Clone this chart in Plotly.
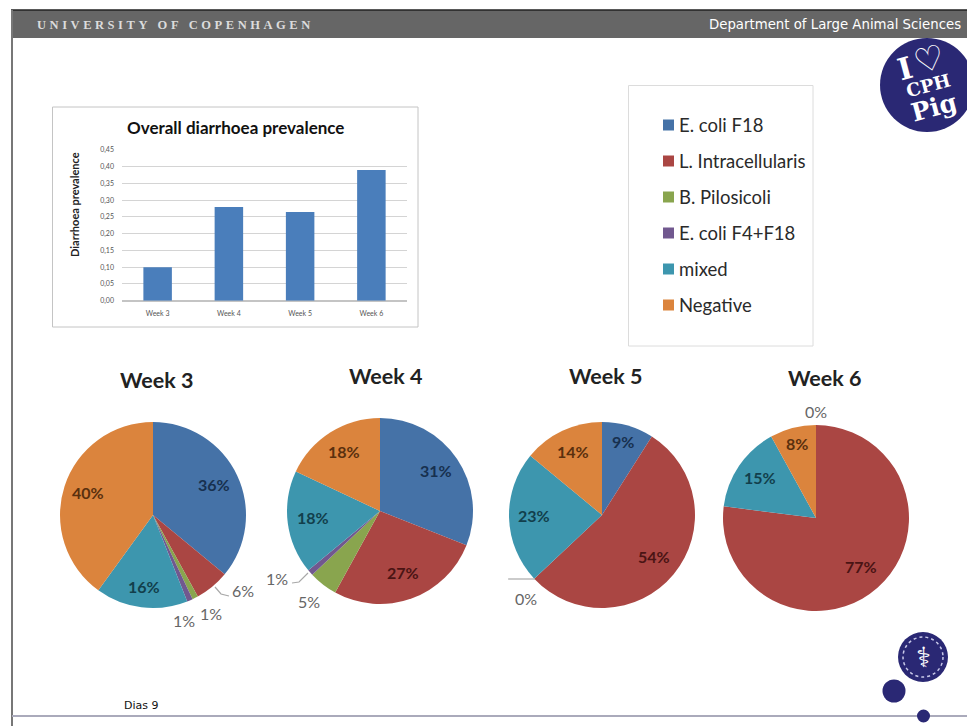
import math
import plotly.graph_objects as go

W, H = 967, 726

# bar chart data
weeks = ["Week 3", "Week 4", "Week 5", "Week 6"]
prevalence = [0.10, 0.28, 0.265, 0.39]
y_ticks = [0, 0.05, 0.10, 0.15, 0.20, 0.25, 0.30, 0.35, 0.40, 0.45]
y_tick_labels = ["0,00", "0,05", "0,10", "0,15", "0,20", "0,25", "0,30", "0,35", "0,40", "0,45"]

# pie data, one list per week
agents = ["E. coli F18", "L. Intracellularis", "B. Pilosicoli", "E. coli F4+F18", "mixed", "Negative"]
week3 = [36, 6, 1, 1, 16, 40]
week4 = [31, 27, 5, 1, 18, 18]
week5 = [9, 54, 0, 0, 23, 14]
week6 = [0, 77, 0, 0, 15, 8]
all_weeks = [week3, week4, week5, week6]

colors = ["#4572A7", "#AA4643", "#89A54E", "#71588F", "#3D96AE", "#DB843D"]
label_colors = ["#17304f", "#4a1414", "#333", "#333", "#123f4c", "#5a300e"]
navy = "#2A2874"

# pie centre x, centre y, and title centre x, y, in page pixels
pie_pos = [(153, 515, 156, 380), (380, 511, 385, 376), (602, 515, 605, 376), (816, 518, 824, 378)]
pie_r = 93

# labels sitting outside the pie: (week index, slice index): page x, y
outside = {
    (0, 1): (243, 590), (0, 2): (211, 613), (0, 3): (184, 620),
    (1, 2): (309, 601), (1, 3): (277, 578),
    (2, 2): (526, 598),
    (3, 0): (816, 412),
}


def fx(x):
    return x / W


def fy(y):
    return 1 - y / H


def text(x, y, s, size, color="#000", family="Lato", bold=False, angle=0):
    fig.add_annotation(x=fx(x), y=fy(y), xref="paper", yref="paper", text=f"<b>{s}</b>" if bold else s,
                       showarrow=False, textangle=angle, font=dict(size=size, color=color, family=family),
                       xanchor="center", yanchor="middle")


def rect(x0, y0, x1, y1, fill, line=None, width=1, layer="below"):
    fig.add_shape(type="rect", xref="paper", yref="paper", x0=fx(x0), x1=fx(x1), y0=fy(y0), y1=fy(y1),
                  fillcolor=fill, line=dict(color=line, width=width if line else 0), layer=layer)


def circle(cx, cy, r, fill, line=None, width=1, dash="solid"):
    fig.add_shape(type="circle", xref="paper", yref="paper", x0=fx(cx - r), x1=fx(cx + r), y0=fy(cy + r), y1=fy(cy - r),
                  fillcolor=fill, line=dict(color=line, width=width if line else 0, dash=dash), layer="above")


def connector(path):
    d = "M " + " L ".join(f"{fx(x)},{fy(y)}" for x, y in path)
    fig.add_shape(type="path", xref="paper", yref="paper", path=d, line=dict(color="#a8a8a8", width=1.2), layer="above")


fig = go.Figure()

fig.add_trace(go.Bar(x=weeks, y=prevalence, marker=dict(color="#4A7EBB", line=dict(width=0)), width=0.4, showlegend=False))

for i, vals in enumerate(all_weeks):
    cx, cy = pie_pos[i][:2]
    fig.add_trace(go.Pie(labels=agents, values=vals, sort=False, direction="clockwise", rotation=0,
                         textinfo="none", showlegend=False, marker=dict(colors=colors, line=dict(width=0)),
                         domain=dict(x=[fx(cx - pie_r), fx(cx + pie_r)], y=[fy(cy + pie_r), fy(cy - pie_r)])))

# slide frame
rect(11, 10, W, 38, "#666666")
fig.add_shape(type="line", xref="paper", yref="paper", x0=fx(11), x1=1, y0=fy(10), y1=fy(10), line=dict(color="#222", width=1.5), layer="below")
fig.add_shape(type="line", xref="paper", yref="paper", x0=fx(12), x1=fx(12), y0=fy(10), y1=0, line=dict(color="#777", width=2), layer="below")
fig.add_shape(type="line", xref="paper", yref="paper", x0=fx(12), x1=1, y0=fy(716), y1=fy(716), line=dict(color="#aaaabb", width=2), layer="below")
text(173, 25, "\u2009\u200a".join("UNIVERSITY OF COPENHAGEN"), 12.5, "#dcdcdc", "Liberation Serif", bold=True)
text(834.5, 25, "Department of Large Animal Sciences", 13.3, "#ffffff", "DejaVu Sans")
text(141, 705, "Dias 9", 11, "#111", "DejaVu Sans")

# bar chart frame and titles
rect(52.5, 107, 418, 327, "#ffffff", "#c4c4c4", 1)
text(235, 127, "Overall diarrhoea prevalence", 17, "#111", "Lato", bold=True)
text(74, 205, "Diarrhoea prevalence", 11, "#222", "Lato", bold=True, angle=-90)

# shared legend
rect(628.5, 85.5, 813, 346, "#ffffff", "#dcdcdc", 1)
for i, name in enumerate(agents):
    y = 125 + 36 * i
    rect(663, y - 5.5, 674, y + 5.5, colors[i])
    fig.add_annotation(x=fx(677), y=fy(y), xref="paper", yref="paper", text=name, showarrow=False, xanchor="left",
                       yanchor="middle", font=dict(size=18.5, color="#2a2a2a", family="Lato"))

# pie titles and value labels
for i, vals in enumerate(all_weeks):
    cx, cy, tx, ty = pie_pos[i]
    text(tx, ty, weeks[i], 21.5, "#222", "Lato", bold=True)
    cum = 0
    for j, v in enumerate(vals):
        ang = 2 * math.pi * (cum + v / 2) / sum(vals)
        cum += v
        if (i, j) in outside:
            ox, oy = outside[(i, j)]
            text(ox, oy, f"{v}%", 16, "#666", "Lato")
        elif v > 0:
            rr = pie_r * (0.8 if v < 10 or v == 16 else 0.73)
            text(cx + rr * math.sin(ang), cy - 2 - rr * math.cos(ang), f"{v}%", 16, label_colors[j], "Lato", bold=True)

connector([(215, 587), (221, 594), (229, 596)])
connector([(292, 583), (299, 582), (308, 573)])
connector([(508, 579), (535, 579)])

# logos
circle(927, 85, 47, navy)
text(905, 68, "I", 30, "#fff", "DejaVu Serif", bold=True, angle=-15)
text(929, 59, "\u2661", 34, "#fff", "DejaVu Sans", bold=True, angle=-15)
text(928, 86, "CPH", 18, "#fff", "DejaVu Serif", bold=True, angle=-15)
text(934, 107, "Pig", 25, "#fff", "DejaVu Serif", bold=True, angle=-15)

circle(923, 657, 25, navy)
circle(923, 657, 20, "rgba(0,0,0,0)", "#c8c8e8", 1.5, "dot")
text(923, 657, "\u2695", 28, "#fff", "DejaVu Sans")
circle(894, 691, 11.5, navy)
circle(923.5, 716, 6.5, navy)

fig.update_layout(
    width=W, height=H, margin=dict(l=0, r=0, t=0, b=0), paper_bgcolor="#ffffff", plot_bgcolor="rgba(0,0,0,0)",
    xaxis=dict(domain=[fx(122), fx(407)], showgrid=False, ticks="", showline=False, zeroline=False, automargin=False,
               tickfont=dict(size=7, color="#555", family="Lato"), ticklabelstandoff=7),
    yaxis=dict(domain=[fy(300.7), fy(150)], range=[0, 0.45], tickvals=y_ticks, ticktext=y_tick_labels, ticks="",
               gridcolor="#d4d4d4", gridwidth=1, zeroline=True, zerolinecolor="#c4c4c4", showline=False, automargin=False,
               tickfont=dict(size=7, color="#555", family="Lato"), ticklabelstandoff=7),
)

fig.write_html("out.html", config=dict(displayModeBar=False),
               post_script="document.body.style.margin='0';document.body.style.overflow='hidden';")
